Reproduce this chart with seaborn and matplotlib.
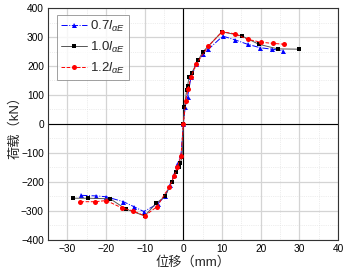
import numpy as np
import matplotlib
matplotlib.use("Agg")
import matplotlib.pyplot as plt
import seaborn as sns
from matplotlib.ticker import MultipleLocator

# 0.7 l_aE
x_07 = [-26.4, -22.5, -19.9, -15.5, -12.8, -10.2, -6.6, -4.7, -3.4, -2.4, -1.6, -0.6, 0,
        0.5, 1.1, 2.0, 3.4, 5.0, 6.5, 10.2, 13.4, 16.6, 19.9, 22.9, 25.7]
y_07 = [-246, -248, -251, -268, -285, -302, -275, -248, -210, -175, -140, -107, 0,
        60, 94, 163, 206, 241, 258, 303, 290, 275, 263, 258, 253]

# 1.0 l_aE
x_10 = [-28.6, -24.7, -18.9, -14.9, -10.0, -7.0, -4.7, -3.0, -2.0, -1.2, -0.8, -0.3, 0,
        0.3, 0.86, 1.1, 1.5, 2.2, 3.9, 5.0, 10.0, 15.1, 19.5, 24.4, 29.9]
y_10 = [-256, -256, -258, -293, -317, -273, -250, -200, -165, -149, -133, -115, 0,
        60, 117, 132, 163, 177, 221, 248, 318, 304, 275, 259, 258]

# 1.2 l_aE
x_12 = [-26.6, -22.8, -19.9, -15.8, -12.9, -10.0, -6.8, -3.6, -2.4, -1.6, -0.6, 0,
        0.6, 1.2, 2.0, 3.3, 6.5, 10.0, 13.3, 16.6, 20.1, 23.1, 26.1]
y_12 = [-268, -268, -264, -290, -300, -317, -285, -216, -180, -150, -110, 0,
        80, 120, 163, 206, 269, 318, 311, 292, 282, 278, 275]

labels = ["0.7$\\mathit{l}_{\\mathit{\\alpha E}}$",
          "1.0$\\mathit{l}_{\\mathit{\\alpha E}}$",
          "1.2$\\mathit{l}_{\\mathit{\\alpha E}}$"]

sns.set_style("white")
plt.rcParams["font.family"] = ["Liberation Sans", "Noto Sans CJK SC"]
plt.rcParams["mathtext.fontset"] = "custom"
plt.rcParams["mathtext.it"] = "Liberation Sans:italic"
plt.rcParams["mathtext.rm"] = "Liberation Sans"

fig = plt.figure(figsize=(3.49, 2.75), dpi=100)
ax = fig.add_axes([0.1375, 0.1273, 0.8310, 0.8436])

sns.lineplot(x=x_07, y=y_07, ax=ax, sort=False, color="#0000ff", linestyle="-.",
             linewidth=0.7, marker="^", markersize=3.6, markeredgewidth=0, label=labels[0])
sns.lineplot(x=x_10, y=y_10, ax=ax, sort=False, color="#555555", linestyle="-",
             linewidth=0.7, marker="s", markersize=3.3, markerfacecolor="black",
             markeredgecolor="black", markeredgewidth=0, label=labels[1])
sns.lineplot(x=x_12, y=y_12, ax=ax, sort=False, color="#ff0000", linestyle="--",
             linewidth=0.7, marker="o", markersize=3.6, markeredgewidth=0, label=labels[2])

ax.set_xlim(-35, 40)
ax.set_ylim(-400, 400)
ax.xaxis.set_major_locator(MultipleLocator(10))
ax.xaxis.set_minor_locator(MultipleLocator(5))
ax.yaxis.set_major_locator(MultipleLocator(100))
ax.yaxis.set_minor_locator(MultipleLocator(50))
ax.grid(which="major", color="#d4d4d4", linewidth=0.9)
ax.grid(which="minor", color="#dddddd", linewidth=0.5, linestyle=":")
ax.set_axisbelow(True)
ax.axhline(0, color="black", linewidth=0.8, zorder=1)
ax.axvline(0, color="black", linewidth=0.8, zorder=1)

ax.tick_params(which="major", direction="in", length=3, width=0.7, labelsize=7.3,
               pad=3, colors="black")
ax.tick_params(which="minor", direction="in", length=1.5, width=0.6)
for s in ax.spines.values():
    s.set_color("#333333")
    s.set_linewidth(0.8)

ax.set_xlabel("位移（mm）", fontsize=9.5, labelpad=1)
ax.set_ylabel("荷载（kN）", fontsize=9.5, labelpad=0)

leg = ax.legend(loc="upper left", bbox_to_anchor=(0.03, 0.97), fontsize=9.5,
                frameon=True, fancybox=False, handlelength=2.0, handletextpad=0.2,
                borderpad=0.3, labelspacing=0.45, borderaxespad=0)
leg.get_frame().set_edgecolor("#888888")
leg.get_frame().set_linewidth(0.7)

fig.savefig("out.png", dpi=100)
